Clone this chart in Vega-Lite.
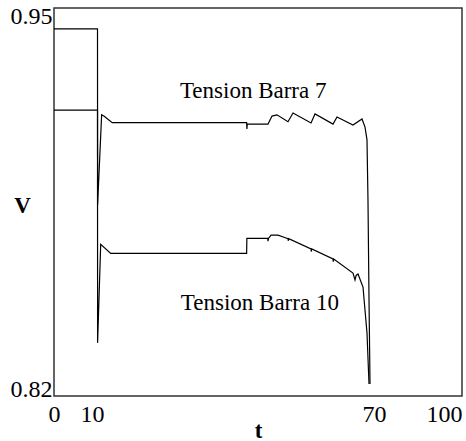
{
  "$schema": "https://vega.github.io/schema/vega-lite/v6.json",
  "width": 408,
  "height": 388,
  "autosize": {"type": "none"},
  "padding": {"left": 54, "top": 8, "right": 4, "bottom": 45},
  "background": "white",
  "config": {
    "view": {"stroke": "#333333", "strokeWidth": 1.5},
    "font": "Liberation Serif"
  },
  "layer": [
    {
      "data": {
        "values": [
          {"s": "Barra 7", "i": 0, "t": 0, "v": 0.9430},
          {"s": "Barra 7", "i": 1, "t": 11.17, "v": 0.9430},
          {"s": "Barra 7", "i": 2, "t": 11.19, "v": 0.8840},
          {"s": "Barra 7", "i": 3, "t": 12.05, "v": 0.9142},
          {"s": "Barra 7", "i": 4, "t": 12.6, "v": 0.9137},
          {"s": "Barra 7", "i": 5, "t": 14.3, "v": 0.9116},
          {"s": "Barra 7", "i": 6, "t": 42.9, "v": 0.9116},
          {"s": "Barra 7", "i": 7, "t": 42.96, "v": 0.9095},
          {"s": "Barra 7", "i": 8, "t": 43.03, "v": 0.9111},
          {"s": "Barra 7", "i": 9, "t": 47.45, "v": 0.9111},
          {"s": "Barra 7", "i": 10, "t": 48.3, "v": 0.9138},
          {"s": "Barra 7", "i": 11, "t": 49.36, "v": 0.9142},
          {"s": "Barra 7", "i": 12, "t": 51.70, "v": 0.9119},
          {"s": "Barra 7", "i": 13, "t": 52.77, "v": 0.9148},
          {"s": "Barra 7", "i": 14, "t": 56.60, "v": 0.9115},
          {"s": "Barra 7", "i": 15, "t": 57.45, "v": 0.9145},
          {"s": "Barra 7", "i": 16, "t": 61.28, "v": 0.9111},
          {"s": "Barra 7", "i": 17, "t": 62.13, "v": 0.9135},
          {"s": "Barra 7", "i": 18, "t": 65.53, "v": 0.9108},
          {"s": "Barra 7", "i": 19, "t": 67.45, "v": 0.9128},
          {"s": "Barra 7", "i": 20, "t": 68.09, "v": 0.9101},
          {"s": "Barra 7", "i": 21, "t": 68.51, "v": 0.9058},
          {"s": "Barra 7", "i": 22, "t": 68.72, "v": 0.8857},
          {"s": "Barra 7", "i": 23, "t": 68.94, "v": 0.8522},
          {"s": "Barra 7", "i": 24, "t": 69.15, "v": 0.8240},
          {"s": "Barra 10", "i": 0, "t": 0, "v": 0.9158},
          {"s": "Barra 10", "i": 1, "t": 11.17, "v": 0.9158},
          {"s": "Barra 10", "i": 2, "t": 11.19, "v": 0.8378},
          {"s": "Barra 10", "i": 3, "t": 11.85, "v": 0.8708},
          {"s": "Barra 10", "i": 4, "t": 13.98, "v": 0.8678},
          {"s": "Barra 10", "i": 5, "t": 42.9, "v": 0.8678},
          {"s": "Barra 10", "i": 6, "t": 42.95, "v": 0.8728},
          {"s": "Barra 10", "i": 7, "t": 47.40, "v": 0.8728},
          {"s": "Barra 10", "i": 8, "t": 47.45, "v": 0.8719},
          {"s": "Barra 10", "i": 9, "t": 47.55, "v": 0.8728},
          {"s": "Barra 10", "i": 10, "t": 48.09, "v": 0.8739},
          {"s": "Barra 10", "i": 11, "t": 49.57, "v": 0.8739},
          {"s": "Barra 10", "i": 12, "t": 51.0, "v": 0.8731},
          {"s": "Barra 10", "i": 13, "t": 51.70, "v": 0.8727},
          {"s": "Barra 10", "i": 14, "t": 51.75, "v": 0.8720},
          {"s": "Barra 10", "i": 15, "t": 51.85, "v": 0.8727},
          {"s": "Barra 10", "i": 16, "t": 56.60, "v": 0.8693},
          {"s": "Barra 10", "i": 17, "t": 56.65, "v": 0.8684},
          {"s": "Barra 10", "i": 18, "t": 56.75, "v": 0.8693},
          {"s": "Barra 10", "i": 19, "t": 61.28, "v": 0.8659},
          {"s": "Barra 10", "i": 20, "t": 61.33, "v": 0.8650},
          {"s": "Barra 10", "i": 21, "t": 61.43, "v": 0.8659},
          {"s": "Barra 10", "i": 22, "t": 65.53, "v": 0.8612},
          {"s": "Barra 10", "i": 23, "t": 65.96, "v": 0.8589},
          {"s": "Barra 10", "i": 24, "t": 66.2, "v": 0.8604},
          {"s": "Barra 10", "i": 25, "t": 66.60, "v": 0.8609},
          {"s": "Barra 10", "i": 26, "t": 67.66, "v": 0.8565},
          {"s": "Barra 10", "i": 27, "t": 68.51, "v": 0.8411},
          {"s": "Barra 10", "i": 28, "t": 68.94, "v": 0.8240}
        ]
      },
      "mark": {"type": "line", "color": "black", "strokeWidth": 1.2},
      "encoding": {
        "x": {
          "field": "t",
          "type": "quantitative",
          "scale": {"type": "linear", "domain": [0, 10, 70, 100], "range": [0, 38, 320, 408], "nice": false, "zero": false},
          "axis": {
            "values": [0, 10, 70, 100],
            "ticks": false,
            "domain": false,
            "grid": false,
            "labelFlush": false,
            "labelOverlap": false,
            "labelBound": false,
            "labelFont": "Liberation Serif",
            "labelFontSize": 24,
            "labelColor": "black",
            "labelPadding": 6,
            "labelAlign": {"condition": {"test": "datum.value == 100", "value": "right"}, "value": "center"},
            "title": "t",
            "titleFont": "Liberation Serif",
            "titleFontSize": 23,
            "titleFontWeight": "bold",
            "titleColor": "black",
            "titleX": 204,
            "titleY": 34,
            "titleAlign": "center",
            "titleBaseline": "middle"
          }
        },
        "y": {
          "field": "v",
          "type": "quantitative",
          "scale": {"domain": [0.82, 0.95], "nice": false, "zero": false},
          "axis": {
            "values": [0.82, 0.95],
            "format": ".2f",
            "ticks": false,
            "domain": false,
            "grid": false,
            "labelFlush": false,
            "labelOverlap": false,
            "labelBound": false,
            "labelFont": "Liberation Serif",
            "labelFontSize": 24,
            "labelColor": "black",
            "labelPadding": 2,
            "labelBaseline": {"condition": {"test": "datum.value < 0.9", "value": "alphabetic"}, "value": "top"},
            "labelOffset": {"condition": {"test": "datum.value > 0.9", "value": -4}, "value": 0},
            "title": "V",
            "titleAngle": 0,
            "titleFont": "Liberation Serif",
            "titleFontSize": 23,
            "titleFontWeight": "bold",
            "titleColor": "black",
            "titleX": -32,
            "titleY": 197,
            "titleAlign": "center",
            "titleBaseline": "middle"
          }
        },
        "detail": {"field": "s"},
        "order": {"field": "i", "type": "quantitative"}
      }
    },
    {
      "data": {
        "values": [
          {"t": 28.7, "v": 0.9198, "label": "Tension Barra 7"},
          {"t": 28.9, "v": 0.8488, "label": "Tension Barra 10"}
        ]
      },
      "mark": {"type": "text", "align": "left", "baseline": "alphabetic", "font": "Liberation Serif", "fontSize": 23, "color": "black"},
      "encoding": {
        "x": {"field": "t", "type": "quantitative"},
        "y": {"field": "v", "type": "quantitative"},
        "text": {"field": "label"}
      }
    }
  ]
}
